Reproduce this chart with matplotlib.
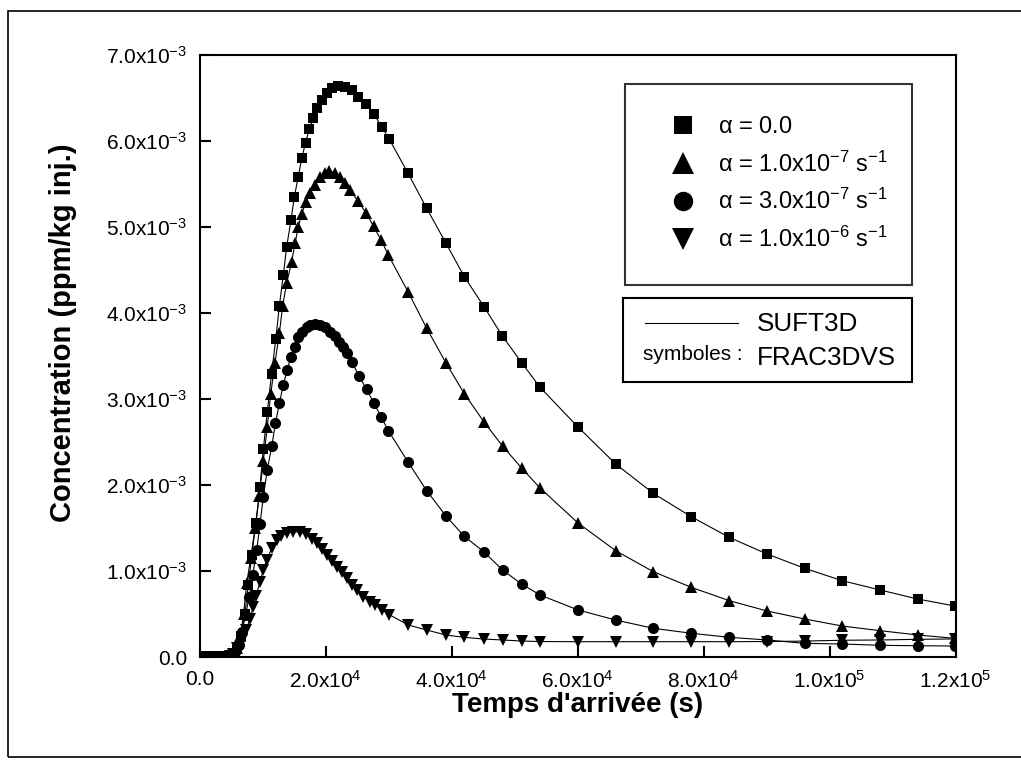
import numpy as np
import matplotlib
matplotlib.use("Agg")
import matplotlib.pyplot as plt
from matplotlib.patches import Rectangle
from matplotlib.lines import Line2D

plt.rcParams['font.family'] = ['Liberation Sans', 'DejaVu Sans']
plt.rcParams['mathtext.fontset'] = 'custom'
plt.rcParams['mathtext.rm'] = 'Liberation Sans'
plt.rcParams['mathtext.it'] = 'Liberation Sans'
plt.rcParams['mathtext.bf'] = 'Liberation Sans:bold'
plt.rcParams['mathtext.default'] = 'regular'

# temps (s) et concentration (x1e-3 ppm/kg inj.)
sq_t = [0, 600, 1200, 1800, 2400, 3000, 3600, 4200, 4800, 5400, 6000, 6600, 7200,
        7750, 8290, 8970, 9600, 10130, 10760, 11430, 12110, 12670, 13300,
        13840, 14520, 15050, 15680, 16220, 16830, 17430, 18060, 18700, 19400,
        20190, 20980, 22030, 23090, 24160, 25210, 26430, 27700, 28920, 30130,
        33100, 36060, 39130, 42030, 45160, 48060, 51140, 54050, 60080, 66060,
        72030, 78060, 84090, 90080, 96060, 102030, 108060, 114000, 119920]
sq_c = [0, 0, 0, 0, 0, 0, 0, 0, 0.01, 0.04, 0.10, 0.24, 0.50,
        0.837, 1.186, 1.562, 1.980, 2.415, 2.852, 3.291, 3.698, 4.081, 4.442,
        4.771, 5.081, 5.352, 5.585, 5.797, 5.980, 6.140, 6.264, 6.380, 6.477,
        6.555, 6.613, 6.640, 6.624, 6.593, 6.515, 6.430, 6.310, 6.166, 6.020,
        5.624, 5.217, 4.810, 4.422, 4.073, 3.733, 3.422, 3.136, 2.674, 2.244,
        1.903, 1.631, 1.391, 1.198, 1.031, 0.887, 0.779, 0.674, 0.593]

tr_t = [0, 600, 1200, 1800, 2400, 3000, 3600, 4200, 4800, 5400, 6000, 6500, 7000,
        7490, 8130, 8810, 9490, 10130, 10760, 11300, 11980, 12670, 13210,
        13840, 14630, 15160, 15680, 16220, 16900, 17540, 18330, 19130, 19920,
        20630, 21510, 22300, 23090, 23890, 25160, 26430, 27650, 28810, 29970,
        33140, 36030, 39080, 42060, 45160, 48100, 51110, 54050, 60080, 66060,
        72030, 78060, 84090, 90080, 96060, 102030, 108060, 114000, 119920]
tr_c = [0, 0, 0, 0, 0, 0, 0, 0, 0.01, 0.04, 0.10, 0.24, 0.50,
        0.860, 1.148, 1.497, 1.872, 2.283, 2.678, 3.058, 3.422, 3.764, 4.087,
        4.349, 4.597, 4.810, 5.000, 5.155, 5.291, 5.392, 5.488, 5.578, 5.631,
        5.651, 5.624, 5.578, 5.508, 5.430, 5.302, 5.163, 5.006, 4.849, 4.674,
        4.241, 3.826, 3.424, 3.058, 2.733, 2.453, 2.198, 1.965, 1.558, 1.236,
        0.992, 0.810, 0.655, 0.535, 0.442, 0.360, 0.306, 0.256, 0.217]

ci_t = [0, 600, 1200, 1800, 2400, 3000, 3600, 4200, 4800, 5630, 6190, 6750, 7300,
        7900, 8440, 9080, 9600, 10130, 10760, 11460, 12060, 12670, 13300,
        13940, 14520, 15160, 15680, 16220, 17020, 17540, 18330, 19130, 19920,
        20710, 21510, 22190, 22830, 23460, 24160, 25320, 26510, 27700, 28810,
        29970, 33100, 36060, 39080, 41980, 45160, 48100, 51110, 54050, 60080,
        66060, 72030, 78060, 84090, 90080, 96060, 102030, 108060, 114000, 119920]
ci_c = [0, 0, 0, 0, 0, 0, 0, 0, 0.01, 0.06, 0.14, 0.29, 0.49,
        0.701, 0.953, 1.244, 1.547, 1.864, 2.174, 2.448, 2.717, 2.950, 3.163,
        3.343, 3.492, 3.608, 3.717, 3.783, 3.833, 3.860, 3.872, 3.860, 3.833,
        3.783, 3.733, 3.666, 3.608, 3.538, 3.434, 3.267, 3.112, 2.950, 2.795,
        2.632, 2.267, 1.934, 1.643, 1.407, 1.221, 1.012, 0.849, 0.721, 0.547,
        0.430, 0.334, 0.276, 0.229, 0.198, 0.159, 0.151, 0.136, 0.131, 0.128]

dt_t = [0, 600, 1200, 1800, 2400, 3000, 3600, 4200, 4800, 5300, 5900,
        6700, 7380, 8020, 8490, 8970, 9600, 10130, 10670, 11460, 12250,
        12940, 13840, 14890, 15950, 16900, 17810, 18600, 19400, 20190, 20980,
        21780, 22570, 23370, 24160, 24950, 26000, 27060, 27860, 28890, 30080,
        33140, 36060, 39080, 41980, 45160, 48100, 51110, 54050, 60080, 66060,
        72030, 78060, 84090, 90080, 96060, 102030, 108060, 114000, 119920]
dt_c = [0, 0, 0, 0, 0, 0, 0, 0, 0.01, 0.04, 0.101,
        0.198, 0.314, 0.442, 0.581, 0.709, 0.872, 1.012, 1.128, 1.262, 1.355,
        1.407, 1.442, 1.459, 1.453, 1.430, 1.378, 1.320, 1.256, 1.186, 1.116,
        1.050, 0.983, 0.913, 0.843, 0.779, 0.703, 0.645, 0.605, 0.552, 0.494,
        0.372, 0.314, 0.256, 0.229, 0.209, 0.198, 0.186, 0.180, 0.178, 0.178,
        0.178, 0.178, 0.178, 0.180, 0.185, 0.195, 0.198, 0.206, 0.210]

series = [
    (sq_t, sq_c, 's', 7.0, r'$\alpha$ = 0.0'),
    (tr_t, tr_c, '^', 9.0, r'$\alpha$ = 1.0x10$^{-7}$ s$^{-1}$'),
    (ci_t, ci_c, 'o', 8.0, r'$\alpha$ = 3.0x10$^{-7}$ s$^{-1}$'),
    (dt_t, dt_c, 'v', 9.0, r'$\alpha$ = 1.0x10$^{-6}$ s$^{-1}$'),
]

x_ticks = [0, 2e4, 4e4, 6e4, 8e4, 1e5, 1.2e5]
x_labels = ['0.0', '2.0x10$^{4}$', '4.0x10$^{4}$', '6.0x10$^{4}$',
            '8.0x10$^{4}$', '1.0x10$^{5}$', '1.2x10$^{5}$']
y_ticks = [0, 1e-3, 2e-3, 3e-3, 4e-3, 5e-3, 6e-3, 7e-3]
y_labels = ['0.0'] + ['%d.0x10$^{-3}$' % k for k in range(1, 8)]

fig = plt.figure(figsize=(10.21, 7.67), dpi=100)
ax = fig.add_axes([0.1954, 0.1434, 0.7405, 0.7849])

handles = []
for t, c, mk, ms, lab in series:
    t = np.array(t)
    c = np.array(c) * 1e-3
    ax.plot(t, c, color='black', lw=0.8, zorder=2)
    h, = ax.plot(t, c, ls='none', marker=mk, ms=ms, color='black',
                 markeredgewidth=0, zorder=3)
    handles.append(h)

ax.set_xlim(0, 1.2e5)
ax.set_ylim(0, 7e-3)
ax.set_xticks(x_ticks)
ax.set_xticklabels(x_labels)
ax.set_yticks(y_ticks)
ax.set_yticklabels(y_labels)
ax.tick_params(direction='in', length=8, width=1.5, labelsize=15, pad=9,
               top=False, right=False)
for s in ax.spines.values():
    s.set_linewidth(1.5)

xl = ax.set_xlabel("Temps d'arrivée (s)", fontsize=20, fontweight='bold')
xl.set_va('center')
ax.xaxis.set_label_coords(0.5, -0.079)
yl = ax.set_ylabel('Concentration (ppm/kg inj.)', fontsize=21, fontweight='bold')
yl.set_va('center')
yl.set_ha('center')
ax.yaxis.set_label_coords(-0.1806, 0.538)

leg = ax.legend(handles, [s[4] for s in series], loc='upper left',
                bbox_to_anchor=(0.563, 0.952, 0.3795, 0.0), mode='expand',
                fontsize=17, frameon=True, fancybox=False, borderpad=1.38,
                handlelength=2.1, handletextpad=0.44, labelspacing=0.54,
                borderaxespad=0, markerscale=1.75)
leg.get_frame().set_edgecolor('black')
leg.get_frame().set_linewidth(1.5)

# deuxième cadre : SUFT3D / FRAC3DVS
ax.add_patch(Rectangle((0.560, 0.457), 0.3825, 0.139, transform=ax.transAxes,
                       fill=True, facecolor='white', edgecolor='black',
                       lw=1.5, zorder=5))
ax.add_line(Line2D([0.589, 0.712], [0.555, 0.555], transform=ax.transAxes,
                   color='black', lw=0.8, zorder=6))
ax.text(0.737, 0.553, 'SUFT3D', transform=ax.transAxes, fontsize=18.8,
        va='center', ha='left', zorder=6)
ax.text(0.587, 0.502, 'symboles :', transform=ax.transAxes, fontsize=15,
        va='center', ha='left', zorder=6)
ax.text(0.737, 0.496, 'FRAC3DVS', transform=ax.transAxes, fontsize=18.8,
        va='center', ha='left', zorder=6)

# cadre extérieur
fig.patches.append(Rectangle((0.0078, 0.013), 1.1, 0.9727, transform=fig.transFigure,
                             fill=False, edgecolor='black', lw=1.2))

fig.savefig('out.png', dpi=100)
